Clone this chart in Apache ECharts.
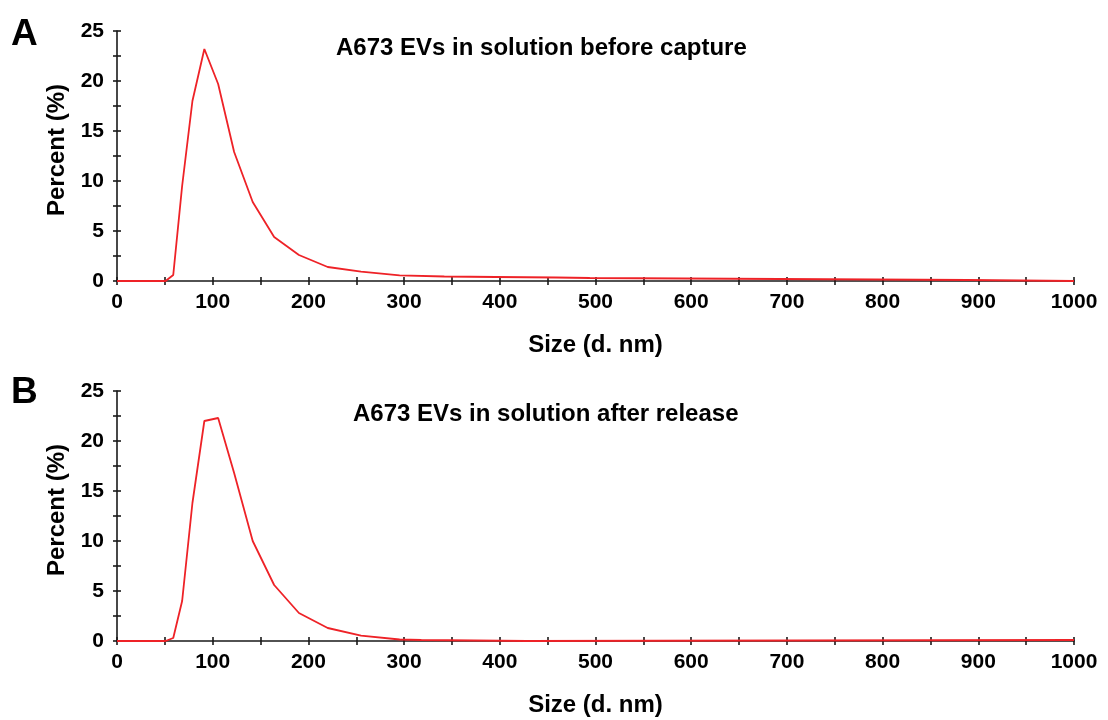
<!DOCTYPE html>
<html>
<head>
<meta charset="utf-8">
<script src="https://cdn.jsdelivr.net/npm/echarts@6/dist/echarts.min.js"></script>
<style>
  body { margin: 0; background: #fff; }
  #chart { width: 1108px; height: 720px; }
</style>
</head>
<body>
<div id="chart"></div>
<script>
// size bins (d. nm) and percent values
var sizeA = [0, 50.75, 58.77, 68.06, 78.82, 91.28, 105.7, 122.4, 141.8, 164.2, 190.1, 220.2, 255.0, 295.3, 342.0, 396.1, 458.7, 494, 496, 889, 891, 1000];
var pctA  = [0, 0, 0.6, 9.5, 18.0, 23.2, 19.7, 12.9, 7.9, 4.4, 2.6, 1.4, 0.93, 0.57, 0.45, 0.4, 0.35, 0.3, 0.1, 0.1, 0, 0];

var sizeB = [0, 50.75, 58.77, 68.06, 78.82, 91.28, 105.7, 122.4, 141.8, 164.2, 190.1, 220.2, 255.0, 295.3, 318, 320, 428, 430, 1000];
var pctB  = [0, 0, 0.3, 4.0, 13.8, 22.0, 22.3, 16.8, 10.0, 5.6, 2.8, 1.3, 0.53, 0.15, 0.1, 0, 0, 0.1, 0.1];

var titleA = 'A673 EVs in solution before capture';
var titleB = 'A673 EVs in solution after release';
var xTicks = { min: 0, max: 1000, step: 50 };
var yTicks = { min: 0, max: 25, step: 2.5 };

var font = 'Liberation Sans, Arial, sans-serif';
var axisColor = '#1a1a1a';
var red = '#ee2227';

function pairs(xs, ys) {
    var out = [];
    for (var i = 0; i < xs.length; i++) {
        out.push([xs[i], ys[i]]);
    }
    return out;
}

// two axes per direction: one draws ticks outward with labels, the other inward, so ticks cross the line
function makeX(grid, inner) {
    return {
        type: 'value', gridIndex: grid, position: 'bottom',
        min: xTicks.min, max: xTicks.max, interval: xTicks.step,
        name: inner ? '' : 'Size (d. nm)',
        nameLocation: 'middle', nameGap: 52,
        nameTextStyle: { fontFamily: font, fontWeight: 'bold', fontSize: 24, color: '#000' },
        axisLine: { show: !inner, onZero: false, lineStyle: { color: axisColor, width: 1.6 } },
        axisTick: { show: true, inside: inner, length: 4, lineStyle: { color: axisColor, width: 1.6 } },
        axisLabel: {
            show: !inner, margin: 11, fontFamily: font, fontWeight: 'bold', fontSize: 21, color: '#000',
            formatter: function (v) { return v % 100 === 0 ? v : ''; }
        },
        splitLine: { show: false }
    };
}
function makeY(grid, inner) {
    return {
        type: 'value', gridIndex: grid, position: 'left',
        min: yTicks.min, max: yTicks.max, interval: yTicks.step,
        name: inner ? '' : 'Percent (%)',
        nameLocation: 'middle', nameGap: 42,
        nameTextStyle: { fontFamily: font, fontWeight: 'bold', fontSize: 24, color: '#000', padding: [0, 0, 0, 12] },
        axisLine: { show: !inner, onZero: false, lineStyle: { color: axisColor, width: 1.6 } },
        axisTick: { show: true, inside: inner, length: 4, lineStyle: { color: axisColor, width: 1.6 } },
        axisLabel: {
            show: !inner, margin: 13, fontFamily: font, fontWeight: 'bold', fontSize: 21, color: '#000',
            formatter: function (v) { return v % 5 === 0 ? v : ''; }
        },
        splitLine: { show: false }
    };
}

var chart = echarts.init(document.getElementById('chart'));
chart.setOption({
    animation: false,
    title: [
        { text: 'A', left: 6, top: 11, textStyle: { fontFamily: font, fontWeight: 'bold', fontSize: 37, color: '#000' } },
        { text: 'B', left: 6, top: 369, textStyle: { fontFamily: font, fontWeight: 'bold', fontSize: 37, color: '#000' } },
        { text: titleA, left: 331, top: 31, textStyle: { fontFamily: font, fontWeight: 'bold', fontSize: 24, color: '#000' } },
        { text: titleB, left: 348, top: 397, textStyle: { fontFamily: font, fontWeight: 'bold', fontSize: 24, color: '#000' } }
    ],
    grid: [
        { left: 117, top: 31, width: 957, height: 250 },
        { left: 117, top: 391, width: 957, height: 250 }
    ],
    xAxis: [makeX(0, false), makeX(0, true), makeX(1, false), makeX(1, true)],
    yAxis: [makeY(0, false), makeY(0, true), makeY(1, false), makeY(1, true)],
    series: [
        {
            name: 'A', type: 'line', xAxisIndex: 0, yAxisIndex: 0,
            showSymbol: false, z: 5,
            lineStyle: { color: red, width: 1.8 },
            data: pairs(sizeA, pctA)
        },
        {
            name: 'B', type: 'line', xAxisIndex: 2, yAxisIndex: 2,
            showSymbol: false, z: 5,
            lineStyle: { color: red, width: 1.8 },
            data: pairs(sizeB, pctB)
        }
    ]
});
</script>
</body>
</html>
